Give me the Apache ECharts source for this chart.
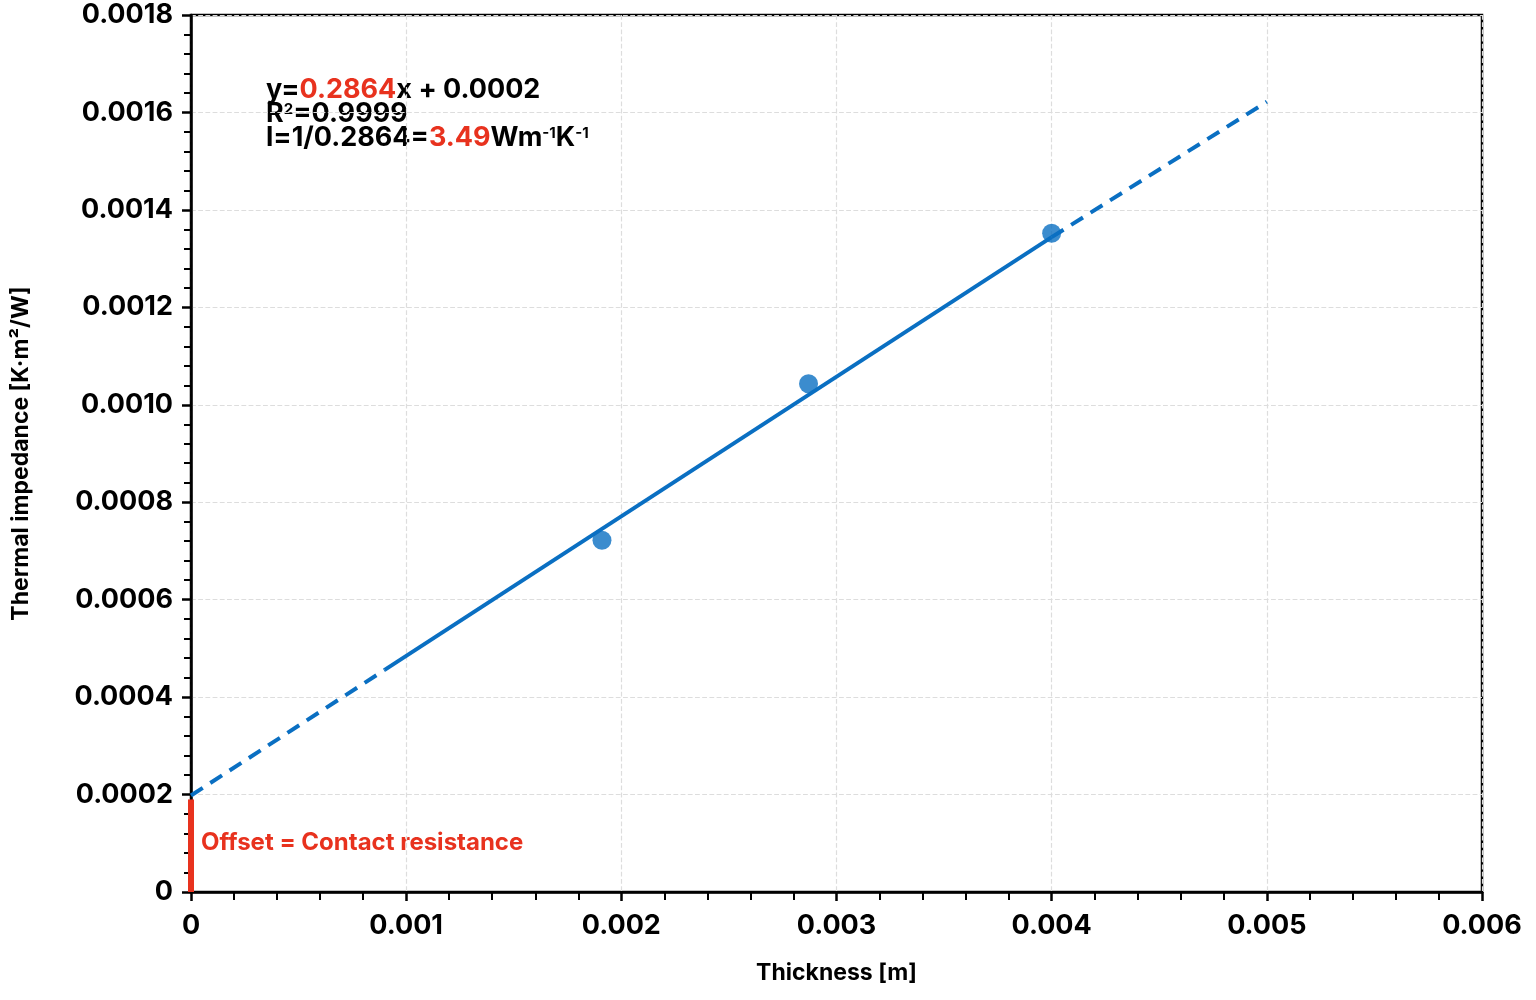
<!DOCTYPE html>
<html><head><meta charset="utf-8">
<script src="https://cdn.jsdelivr.net/npm/echarts@6/dist/echarts.min.js"></script>
<style>html,body{margin:0;background:#fff}#c{width:1536px;height:1000px}</style>
</head><body><div id="c"></div>
<script>
// measured points
var thickness = [0.00191, 0.00287, 0.00400];
var impedance = [0.000722, 0.001043, 0.001352];
// fit line y=0.2864x+0.0002 (drawn in three pieces)
var fitDashLow = [[0, 0.000198], [0.0009, 0.000456]];
var fitSolid = [[0.0009, 0.000456], [0.0040, 0.001344]];
var fitDashHigh = [[0.0040, 0.001344], [0.0050, 0.001622]];
var offsetBar = [[0, 0], [0, 0.00019]];

var F = 'Inter, "Noto Sans", sans-serif';
var blue = '#0a6fc2', red = '#e8321e';

var chart = echarts.init(document.getElementById('c'));
chart.setOption({
  animation: false,
  grid: {left: 191, right: 54, top: 15, bottom: 108, show: true, borderColor: '#000', borderWidth: 2.5},
  xAxis: {
    type: 'value', min: 0, max: 0.006, interval: 0.001,
    name: 'Thickness [m]', nameLocation: 'middle', nameGap: 70,
    nameTextStyle: {fontFamily: F, fontWeight: 'bold', fontSize: 23, color: '#000'},
    axisLine: {lineStyle: {color: '#000', width: 2.5}},
    axisTick: {length: 9, lineStyle: {color: '#000', width: 2.5}},
    minorTick: {show: true, splitNumber: 5, length: 8, lineStyle: {color: '#000', width: 2}},
    axisLabel: {fontFamily: F, fontWeight: 'bold', fontSize: 27, color: '#000', margin: 20,
      formatter: function (v) { return v === 0 ? '0' : v.toFixed(3); }},
    splitLine: {show: true, lineStyle: {color: '#ddd', type: 'dashed', width: 1.2}}
  },
  yAxis: {
    type: 'value', min: 0, max: 0.0018, interval: 0.0002, offset: 8,
    name: 'Thermal impedance [K·m²/W]', nameLocation: 'middle', nameGap: 150, nameRotate: 90,
    nameTextStyle: {fontFamily: F, fontWeight: 'bold', fontSize: 23, color: '#000'},
    axisLine: {show: true, lineStyle: {color: '#000', width: 2.5}},
    axisTick: {show: true, length: 9, lineStyle: {color: '#000', width: 2.5}},
    minorTick: {show: true, splitNumber: 5, length: 7, lineStyle: {color: '#000', width: 2}},
    axisLabel: {fontFamily: F, fontWeight: 'bold', fontSize: 27, color: '#000', margin: 10,
      formatter: function (v) { return v === 0 ? '0' : v.toFixed(4); }},
    splitLine: {show: true, lineStyle: {color: '#ddd', type: 'dashed', width: 1.2}}
  },
  series: [
    {type: 'line', data: fitDashLow, symbol: 'none', lineStyle: {color: blue, width: 4, type: [14, 9]}},
    {type: 'line', data: fitSolid, symbol: 'none', lineStyle: {color: blue, width: 4}},
    {type: 'line', data: fitDashHigh, symbol: 'none', lineStyle: {color: blue, width: 4, type: [14, 9]}},
    {type: 'line', data: offsetBar, symbol: 'none', lineStyle: {color: red, width: 6, cap: 'butt'}},
    {type: 'scatter', data: thickness.map(function (x, i) { return [x, impedance[i]]; }),
      symbolSize: 19, itemStyle: {color: blue}}
  ],
  graphic: [
    {type: 'text', left: 266, top: 76, style: {
      text: '{k|y=}{r|0.2864}{k|x + 0.0002}\n{k|R}{s|2}{k|=0.9999}\n{k|l=1/0.2864=}{r|3.49}{k|Wm}{s|-1}{k|K}{s|-1}',
      rich: {
        k: {fontFamily: F, fontWeight: 'bold', fontSize: 27, fill: '#000', lineHeight: 24},
        r: {fontFamily: F, fontWeight: 'bold', fontSize: 27, fill: red, lineHeight: 24},
        s: {fontFamily: F, fontWeight: 'bold', fontSize: 15, fill: '#000', lineHeight: 24, verticalAlign: 'top', padding: [0, 0, 10, 0]}
      }}},
    {type: 'text', left: 201, top: 831, style: {text: 'Offset = Contact resistance',
      fontFamily: F, fontWeight: 'bold', fontSize: 24, fill: red}}
  ]
});
</script></body></html>
